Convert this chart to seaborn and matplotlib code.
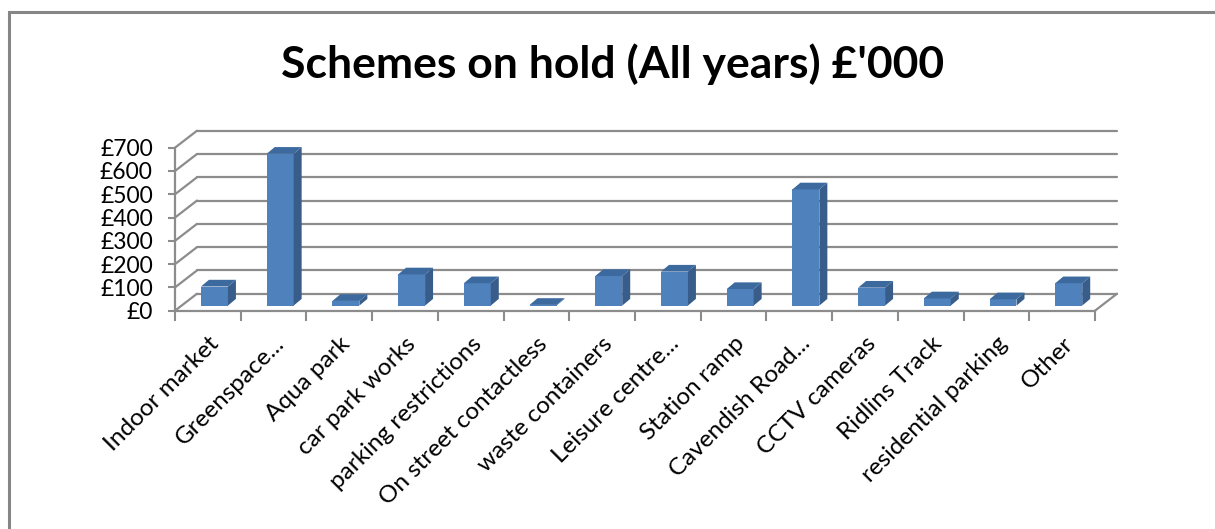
import matplotlib
matplotlib.use("Agg")
import matplotlib.pyplot as plt
from matplotlib.patches import Polygon, Rectangle
from matplotlib.transforms import Affine2D
import seaborn as sns
import pandas as pd

categories = ["Indoor market", "Greenspace...", "Aqua park", "car park works",
              "parking restrictions", "On street contactless", "waste containers",
              "Leisure centre...", "Station ramp", "Cavendish Road...", "CCTV cameras",
              "Ridlins Track", "residential parking", "Other"]
values = [82, 652, 20, 134, 96, 3, 127, 146, 71, 499, 77, 31, 27, 96]
yticks = [0, 100, 200, 300, 400, 500, 600, 700]
title = "Schemes on hold (All years) £'000"

sns.set_theme(style="white")
plt.rcParams['font.family'] = ['Lato', 'DejaVu Sans']

W, H = 1215, 529
fig = plt.figure(figsize=(W / 100, H / 100), dpi=100)
x0, x1 = 175, 1095
y0, y1 = 310.7, 147.7
ax = fig.add_axes([x0 / W, 1 - y0 / H, (x1 - x0) / W, (y0 - y1) / H])

df = pd.DataFrame({"cat": categories, "val": values})
sns.barplot(data=df, x="cat", y="val", color="#4F81BD", width=0.41,
            saturation=1, ax=ax, zorder=3)
ax.set_xlim(-0.5, len(categories) - 0.5)
ax.set_ylim(0, 700)

# depth offsets (data units)
px_x = (x1 - x0) / len(categories)
px_y = (y0 - y1) / 700
wall_dx, wall_dy = 22 / px_x, 17 / px_y
bar_dx, bar_dy = 8 / px_x, 6.7 / px_y
frac = 0.3
shift = Affine2D().translate(frac * wall_dx, frac * wall_dy) + ax.transData

grid_c = "#8c8c8c"
xl, xr = -0.5, len(categories) - 0.5
for v in yticks:
    ax.plot([xl + wall_dx, xr + wall_dx], [v + wall_dy, v + wall_dy],
            color=grid_c, lw=1.6, clip_on=False, zorder=0)
    ax.plot([xl, xl + wall_dx], [v, v + wall_dy], color=grid_c, lw=1.6,
            clip_on=False, zorder=0)
ax.plot([xr, xr + wall_dx], [0, wall_dy], color=grid_c, lw=1.6, clip_on=False, zorder=1)

for p in list(ax.patches):
    p.set_transform(shift)
    p.set_edgecolor("none")
    bx, bw, bh = p.get_x(), p.get_width(), p.get_height()
    side = Polygon([(bx + bw, 0), (bx + bw + bar_dx, bar_dy),
                    (bx + bw + bar_dx, bh + bar_dy), (bx + bw, bh)],
                   closed=True, fc="#385D8A", ec="none", transform=shift,
                   clip_on=False, zorder=3)
    top = Polygon([(bx, bh), (bx + bar_dx, bh + bar_dy),
                   (bx + bw + bar_dx, bh + bar_dy), (bx + bw, bh)],
                  closed=True, fc="#3C6A9E", ec="none", transform=shift,
                  clip_on=False, zorder=3)
    ax.add_patch(side)
    ax.add_patch(top)
    p.set_clip_on(False)

for s in ["top", "right"]:
    ax.spines[s].set_visible(False)
for s in ["left", "bottom"]:
    ax.spines[s].set_color(grid_c)
    ax.spines[s].set_linewidth(1.6)

ax.set_yticks(yticks)
ax.set_yticklabels([f"£{v}" for v in yticks], fontsize=16.5, color="black")
ax.set_xticks([i - 0.5 for i in range(len(categories) + 1)])
ax.set_xticklabels([])
ax.set_xticks(range(len(categories)), minor=True)
ax.set_xticklabels(categories, minor=True, rotation=45, ha="right",
                   rotation_mode="anchor", fontsize=17.5, color="black")
ax.tick_params(axis="x", which="major", length=7, width=1.5, color=grid_c, direction="out", bottom=True)
ax.tick_params(axis="x", which="minor", length=0, pad=16, bottom=True)
ax.tick_params(axis="y", length=5, width=1.5, color=grid_c, direction="out", left=True, pad=11)
ax.set_xlabel("")
ax.set_ylabel("")
ax.grid(False)
ax.patch.set_alpha(0)

fig.text(613 / W, 1 - 78 / H, title, ha="center", va="baseline",
         fontsize=32, fontweight="bold", color="black")

fig.add_artist(Rectangle((9 / W, -0.1), 1.2, (H - 12) / H + 0.1,
                         transform=fig.transFigure, fill=False,
                         ec="#868686", lw=2.2))

fig.savefig("out.png", dpi=100)
